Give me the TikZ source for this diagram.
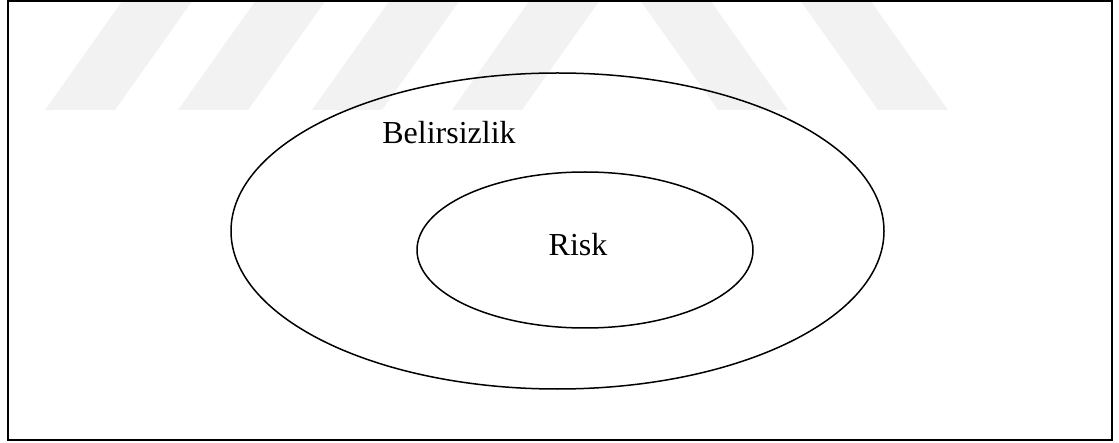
\documentclass[tikz,border=0pt]{standalone}
\usepackage{fontspec}
\setmainfont{Liberation Serif}
\usetikzlibrary{shapes.geometric}
\begin{document}
\begin{tikzpicture}[x=1pt,y=1pt,
  wm/.style={fill=black!5,draw=none},
  oval/.style={draw=black,line width=1.5pt,ellipse,inner sep=0pt},
  lbl/.style={font=\fontsize{32}{37}\selectfont,inner sep=0pt}]
\useasboundingbox (0,0) rectangle (1119,442);
% watermark stripes
\fill[wm] (45,332) -- (115,332) -- (193,442) -- (123,442) -- cycle;
\fill[wm] (178,332) -- (248,332) -- (326,442) -- (256,442) -- cycle;
\fill[wm] (312,332) -- (382,332) -- (460,442) -- (390,442) -- cycle;
\fill[wm] (452,332) -- (522,332) -- (600,442) -- (530,442) -- cycle;
\fill[wm] (640,442) -- (710,442) -- (788,332) -- (718,332) -- cycle;
\fill[wm] (800,442) -- (870,442) -- (948,332) -- (878,332) -- cycle;
% frame
\node[draw=black,line width=2pt,minimum width=1104pt,minimum height=439pt,inner sep=0pt] (frame) at (560,221.5) {};
% ellipses
\node[oval,minimum width=653pt,minimum height=316pt] (outer) at (557.5,211) {};
\node[oval,minimum width=336pt,minimum height=156pt] (inner) at (585,192) {};
% labels
\node[lbl] (bel) at (449,309) {Belirsizlik};
\node[lbl] (risk) at (578,197) {Risk};
\end{tikzpicture}
\end{document}
